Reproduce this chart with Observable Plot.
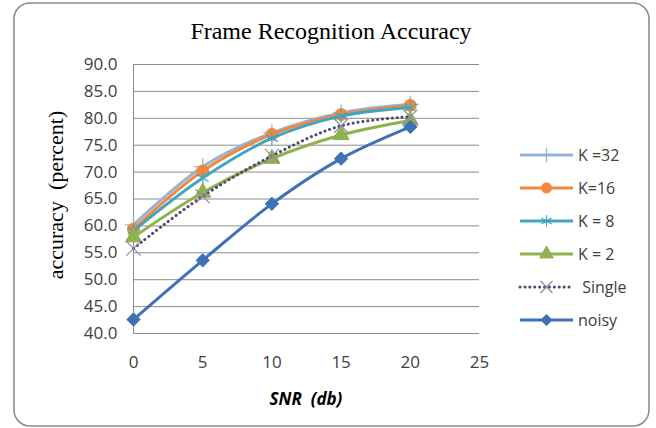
<!DOCTYPE html>
<html>
<head>
<meta charset="utf-8">
<script src="https://cdn.jsdelivr.net/npm/d3@7"></script>
<script src="https://cdn.jsdelivr.net/npm/@observablehq/plot@0.6"></script>
<style>
  html, body { margin: 0; padding: 0; background: #fff; }
  #chart { width: 656px; height: 428px; }
</style>
</head>
<body>
<div id="chart"></div>
<script>
const snr = [0, 5, 10, 15, 20];
const seriesNames = ["K =32", "K=16", "K = 8", "K = 2", " Single", "noisy"];
const k32    = [60.2, 71.0, 77.3, 81.0, 82.6];
const k16    = [59.4, 70.2, 77.0, 80.7, 82.4];
const k8     = [59.1, 68.9, 76.3, 80.4, 82.0];
const k2     = [57.9, 66.2, 72.5, 76.9, 79.6];
const single = [55.8, 65.5, 73.0, 78.6, 80.3];
const noisy  = [42.6, 53.6, 64.1, 72.5, 78.4];
const yTicks = [40, 45, 50, 55, 60, 65, 70, 75, 80, 85, 90];
const xTicks = [0, 5, 10, 15, 20, 25];

const styles = [
  {color: "#95B3D7", symbol: "plus",     fill: "none",    stroke: "#95B3D7", sw: 1.3, r: 5.5, dash: null},
  {color: "#F0883E", symbol: "circle",   fill: "#F0883E", stroke: "#F0883E", sw: 1,   r: 6,   dash: null},
  {color: "#40A6BE", symbol: "asterisk", fill: "none",    stroke: "#40A6BE", sw: 1.2, r: 6.5, dash: null},
  {color: "#8FB24E", symbol: "triangle", fill: "#8FB24E", stroke: "#8FB24E", sw: 1,   r: 6,   dash: null},
  {color: "#55466F", symbol: "times",    fill: "none",    stroke: "#9385AE", sw: 1.2, r: 6.5, dash: "0.1 4.8"},
  {color: "#3E72B6", symbol: "diamond2", fill: "#3E72B6", stroke: "#3E72B6", sw: 1,   r: 6,   dash: null}
];
const allValues = [k32, k16, k8, k2, single, noisy];

const data = [];
allValues.forEach((vals, si) => {
  vals.forEach((v, i) => data.push({series: seriesNames[si], si, snr: snr[i], acc: v}));
});

const marks = [
  Plot.ruleY(yTicks, {stroke: "#8C8C8C", strokeWidth: 1}),
  Plot.ruleX([0], {stroke: "#8C8C8C", strokeWidth: 1}),
  Plot.axisY({ticks: yTicks, tickFormat: d => d.toFixed(1), tickSize: 0, tickPadding: 16,
    fontSize: 17, fontFamily: "Open Sans", fill: "#404040", label: null}),
  Plot.axisX({ticks: xTicks, tickSize: 0, tickPadding: 22,
    fontSize: 17, fontFamily: "Open Sans", fill: "#404040", label: null})
];
styles.forEach((s, si) => {
  const d = data.filter(r => r.si === si);
  marks.push(Plot.line(d, {x: "snr", y: "acc", stroke: s.color, strokeWidth: 3,
    curve: "catmull-rom", strokeDasharray: s.dash, strokeLinecap: s.dash ? "round" : "butt",
    strokeLinejoin: "round"}));
  marks.push(Plot.dot(d, {x: "snr", y: "acc", symbol: () => s.symbol, r: s.r,
    fill: s.fill, stroke: s.stroke, strokeWidth: s.sw}));
});

const plot = Plot.plot({
  width: 656,
  height: 428,
  marginLeft: 133,
  marginRight: 177,
  marginTop: 64,
  marginBottom: 95,
  x: {domain: [0, 25]},
  y: {domain: [40, 90]},
  symbol: {type: "identity"},
  style: {background: "transparent", overflow: "visible"},
  marks
});

const svg = d3.select(plot);
// rounded outer border
svg.insert("rect", ":first-child")
  .attr("x", 14).attr("y", 3).attr("width", 635).attr("height", 423)
  .attr("rx", 16).attr("ry", 16)
  .attr("fill", "#fff").attr("stroke", "#8C8C8C").attr("stroke-width", 1.6);

// title
svg.append("text").attr("x", 331).attr("y", 39).attr("text-anchor", "middle")
  .style("font-family", "'Liberation Serif', 'DejaVu Serif', serif").style("font-size", "24px")
  .attr("fill", "#000").text("Frame Recognition Accuracy");

// y label
svg.append("text").attr("transform", "translate(63,195) rotate(-90)").attr("text-anchor", "middle")
  .style("font-family", "'Liberation Serif', 'DejaVu Serif', serif").style("font-size", "22px")
  .attr("fill", "#000").text("accuracy  (percent)");

// x label
svg.append("text").attr("x", 306).attr("y", 398).attr("text-anchor", "middle")
  .attr("dominant-baseline", "central")
  .style("font-family", "'Open Sans', sans-serif").style("font-size", "17px")
  .style("font-weight", "bold").style("font-style", "italic")
  .attr("fill", "#000").text("SNR  (db)");

// legend
const symMap = {
  plus: d3.symbolPlus, circle: d3.symbolCircle, asterisk: d3.symbolAsterisk,
  triangle: d3.symbolTriangle, times: d3.symbolTimes, diamond2: d3.symbolDiamond2
};
const legendRows = [155, 188, 221, 254, 287, 320];
const lg = svg.append("g");
styles.forEach((s, si) => {
  const y = legendRows[si];
  const lr = s.r * 0.85;
  lg.append("line").attr("x1", 520).attr("x2", 573).attr("y1", y).attr("y2", y)
    .attr("stroke", s.color).attr("stroke-width", 3)
    .attr("stroke-dasharray", s.dash).attr("stroke-linecap", s.dash ? "round" : "butt");
  lg.append("path").attr("transform", `translate(546.5,${y})`)
    .attr("d", d3.symbol(symMap[s.symbol], Math.PI * lr * lr)())
    .attr("fill", s.fill).attr("stroke", s.stroke).attr("stroke-width", s.sw);
  lg.append("text").attr("x", 578).attr("y", y).attr("dominant-baseline", "central")
    .attr("text-anchor", "start")
    .style("font-family", "'Open Sans', sans-serif").style("font-size", "16px")
    .attr("fill", "#404040").style("white-space", "pre")
    .text(seriesNames[si]);
});

document.getElementById("chart").appendChild(plot);
</script>
</body>
</html>
